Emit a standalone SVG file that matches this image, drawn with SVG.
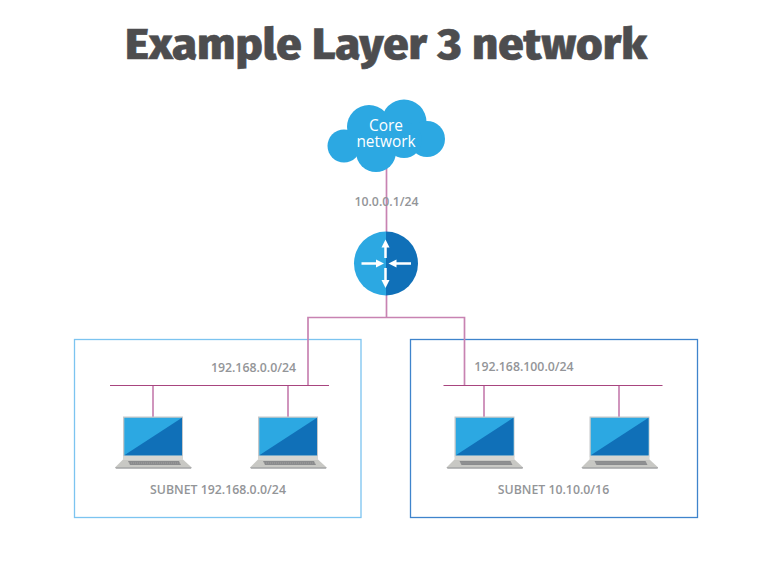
<svg xmlns="http://www.w3.org/2000/svg" width="758" height="567" viewBox="0 0 758 567">
<style>
.t{font-family:"Open Sans","Noto Sans",sans-serif;font-size:12.300px;font-weight:600;fill:#939598;text-anchor:middle}
.c{fill:none;stroke:#c883b2;stroke-width:1.700}
.b{fill:none;stroke:#a8457f;stroke-width:1}
.w{stroke:#fff;stroke-width:2.500;fill:none}
.n{font-family:"Open Sans",sans-serif;font-size:15.400px;fill:#fff;text-anchor:middle}
</style>
<defs>
<g id="laptop">
<path d="M-30 43L-38 51H38.700L30 43Z" fill="#c8c8c4"/>
<rect x="-30" y="0" width="60" height="40" fill="#c6c8ca"/>
<rect x="-30" y="39.500" width="60" height="4" fill="#d6d6d2"/>
<path d="M-38 51H38.700L38 52H-37Z" fill="#77787b"/>
<rect x="-28.700" y="1.300" width="57.700" height="37.500" fill="#2ca8e2"/>
<path d="M29 1.300V38.800H-28.700Z" fill="#1070b8"/>
<path d="M-25 44.500H26L28 48.500H-23Z" fill="#8a8b8d"/>
<path d="M-24 46.500H27" stroke="#b4b4b2" stroke-width="0.500" stroke-dasharray="1 1" fill="none"/>
</g>
</defs>
<rect width="758" height="567" fill="#fff"/>
<text id="title" x="386" y="59" text-anchor="middle" font-family="'Fira Sans','Open Sans','Noto Sans',sans-serif" font-weight="800" font-size="44" fill="#4d4d4f" stroke="#4d4d4f" stroke-width="0.600" textLength="522" lengthAdjust="spacingAndGlyphs">Example Layer 3 network</text>
<g id="subnet-1">
<rect x="74.500" y="339.500" width="286.500" height="178" fill="none" stroke="#7cc4f0" stroke-width="1.300"/>
<text class="t" x="218" y="494">SUBNET 192.168.0.0/24</text>
</g>
<g id="subnet-2">
<rect x="410.500" y="339.500" width="287" height="178" fill="none" stroke="#3f84cc" stroke-width="1.300"/>
<text class="t" x="553.500" y="494">SUBNET 10.10.0/16</text>
</g>
<g id="connectors">
<path class="c" d="M386.500 168V232M386.500 294V317.500M308 385V317.500H464.500V385"/>
<path class="c" d="M153 385V417M288 385V417M484 385V417M619 385V417"/>
<path class="b" d="M110 385.500H329M443.500 385.500H662.500"/>
</g>
<g id="cloud">
<g fill="#2ca8e2">
<circle cx="344" cy="146" r="16.500"/>
<circle cx="369" cy="127" r="22"/>
<circle cx="404" cy="122" r="22.500"/>
<circle cx="427" cy="139" r="18"/>
<circle cx="376" cy="152" r="20"/>
<circle cx="404" cy="140" r="18"/>
</g>
<text class="n"><tspan x="386" y="131">Core</tspan><tspan x="386" y="147">network</tspan></text>
</g>
<text id="label-core" class="t" x="386.500" y="206">10.0.0.1/24</text>
<g id="router">
<path d="M386 231.500a32 32 0 0 0 0 64Z" fill="#2ca8e2"/>
<path d="M386 231.500a32 32 0 0 1 0 64Z" fill="#1070b8"/>
<path class="w" d="M385.500 245V258M385.500 268V282M361.500 263.500H378M394 263.500H411"/>
<path fill="#fff" d="M385.500 239.500L381.500 247.500H389.500ZM385.500 288L381.500 280H389.500ZM384 263.500L376 259.500V267.500ZM388.500 263.500L396.500 259.500V267.500Z"/>
</g>
<text id="label-a" class="t" x="253.500" y="372">192.168.0.0/24</text>
<text id="label-b" class="t" x="524" y="371">192.168.100.0/24</text>
<use id="laptop-1" href="#laptop" x="153" y="416.500"/>
<use id="laptop-2" href="#laptop" x="288" y="416.500"/>
<use id="laptop-3" href="#laptop" x="484.500" y="416.500"/>
<use id="laptop-4" href="#laptop" x="619.500" y="416.500"/>
</svg>
